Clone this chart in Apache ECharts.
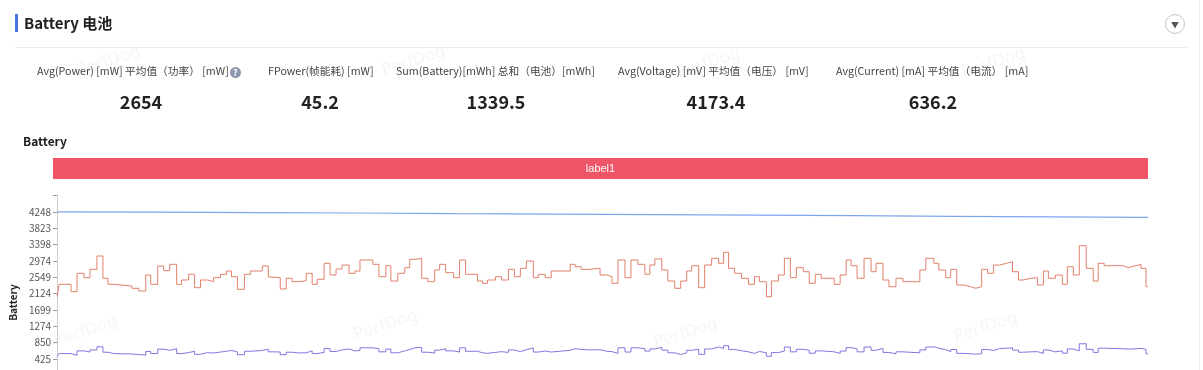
<!DOCTYPE html>
<html>
<head>
<meta charset="utf-8">
<script src="https://cdn.jsdelivr.net/npm/echarts@6/dist/echarts.min.js"></script>
<style>
  html, body { margin: 0; padding: 0; width: 1203px; height: 370px; overflow: hidden; background: #fff; }
  body { position: relative; font-family: "Noto Sans CJK SC", "Noto Sans", sans-serif; }
  #chart { position: absolute; left: 0; top: 0; width: 1203px; height: 420px; z-index: 0; }
  .ov { position: absolute; z-index: 2; white-space: nowrap; }
  .lbl { font-size: 10.7px; color: #444; line-height: 14px; }
  .val { font-size: 18px; font-weight: bold; color: #222; line-height: 22px; transform: translateX(-50%); }
  .wm { position: absolute; z-index: 1; font-size: 17px; color: rgba(0,0,0,0.045); transform: rotate(-18deg); font-family: "Noto Sans", sans-serif; }
</style>
</head>
<body>
<div id="chart"></div>

<div class="ov" style="left:15px;top:14px;width:3px;height:18px;background:#4a72e6;"></div>
<div class="ov" style="left:24px;top:12px;font-size:15px;font-weight:bold;color:#222;line-height:22px;">Battery 电池</div>
<div class="ov" style="left:15px;top:47px;width:1172px;height:1px;background:#ececec;"></div>
<div class="ov" style="left:1165px;top:14px;width:18px;height:18px;border:1px solid #c4c4c4;border-radius:50%;text-align:center;font-size:8px;line-height:19px;color:#555;">▼</div>
<div class="ov" style="left:1199px;top:0;width:1px;height:370px;background:#eef0f6;"></div>

<div id="stats"></div>

<div class="wm" style="left:52px;top:318px;">PerfDog</div>
<div class="wm" style="left:352px;top:312px;">PerfDog</div>
<div class="wm" style="left:652px;top:320px;">PerfDog</div>
<div class="wm" style="left:952px;top:314px;">PerfDog</div>
<div class="wm" style="left:75px;top:48px;">PerfDog</div>
<div class="wm" style="left:380px;top:48px;">PerfDog</div>
<div class="wm" style="left:675px;top:50px;">PerfDog</div>
<div class="wm" style="left:960px;top:50px;">PerfDog</div>

<script>
// ---- stats ----
const statLabels = [
  "Avg(Power) [mW] 平均值（功率） [mW]",
  "FPower(帧能耗) [mW]",
  "Sum(Battery)[mWh] 总和（电池）[mWh]",
  "Avg(Voltage) [mV] 平均值（电压） [mV]",
  "Avg(Current) [mA] 平均值（电流） [mA]"
];
const statValues = ["2654", "45.2", "1339.5", "4173.4", "636.2"];

// ---- series data (x = time position, power/current share time points) ----
const times = [0,2,14,20,27,33,40,46,51,57,75,82,89,94,101,107,113,120,125,132,138,144,151,157,164,170,175,181,188,194,206,212,
  217,224,230,236,243,250,256,261,268,274,280,286,293,299,304,317,323,330,335,342,349,354,360,366,372,379,384,390,398,404,410,422,427,432,
  437,440,446,453,459,465,471,478,483,490,496,515,520,526,534,545,552,557,563,570,576,583,590,595,600,607,613,620,626,632,637,644,650,
  657,664,669,674,680,687,694,700,705,712,717,724,730,736,742,749,755,761,767,780,786,792,797,803,810,817,822,829,835,842,849,866,872,
  877,880,885,892,897,903,910,917,922,928,934,940,946,953,959,965,970,977,984,990,995,1002,1009,1014,1020,1026,1033,1040,1045,1051,1070,1075,1083,1088,1093,1095];

const powerValues = [2044,2366,2174,2652,2538,2756,3102,2522,2366,2322,2262,2192,2608,2366,2842,2720,2886,2366,2478,2626,2278,2478,2434,2538,2626,2712,2564,2236,2626,2712,2842,2555,
  2538,2244,2522,2434,2460,2652,2366,2496,2912,2608,2764,2868,2652,2712,2998,2886,2564,2850,2452,2652,2798,3016,3042,2522,2434,2738,2886,2668,2538,2998,2626,2452,2392,2478,
  2478,2564,2478,2756,2564,2782,2972,2538,2626,2538,2712,2886,2824,2756,2782,2608,2564,2392,2998,2538,2998,2886,2626,2868,3025,2738,2452,2262,2452,2712,2850,2278,2868,
  3042,2912,3198,2782,2652,2522,2366,2564,2434,2044,2452,2608,3042,2538,2798,2694,2392,2626,2522,2366,2608,2998,2850,2522,3042,2694,2912,2478,2304,2522,2434,2738,3042,
  3042,2912,2738,2538,2756,2348,2304,2262,2304,2756,2652,2868,2912,2954,2694,2478,2522,2538,2348,2712,2522,2608,2366,2824,2608,3370,2782,2452,2912,2850,2798,2850,2886,2782,2304,2304];

const currentValues = [490,565,520,635,605,660,740,600,565,555,540,525,620,565,680,650,690,565,590,625,545,590,580,605,625,645,610,535,625,645,680,610,
  605,535,600,580,585,635,565,595,695,620,660,685,635,645,715,690,610,680,585,635,670,720,725,600,580,655,690,635,605,715,625,585,570,590,
  595,615,595,660,615,665,710,605,630,605,650,690,675,660,665,625,615,570,715,605,715,690,630,685,725,655,585,540,585,650,680,545,685,
  735,700,770,670,640,610,570,620,585,495,590,630,735,610,675,650,575,635,610,570,630,720,685,610,735,650,700,595,555,610,585,660,735,
  740,705,665,615,670,570,560,550,560,670,645,695,705,715,655,600,610,615,570,660,610,635,575,685,635,820,675,595,705,690,680,690,700,675,560,560];

const voltageTimes  = [0,100,200,300,400,500,600,700,800,900,1000,1095];
const voltageValues = [4250,4245,4232,4220,4205,4192,4178,4165,4150,4135,4120,4105];

// label band
const bandNames = ["label1"];
const bandStart = [0];
const bandEnd = [1095];

// axis
const yInterval = 424.8;
const yMax = 4672.8;
const timeMax = 1095;

// ---- build stats DOM ----
const statLeft = [37, 268, 396, 618, 836];
const statCenter = [141, 320, 496, 716, 933];
const statsEl = document.getElementById('stats');
statLabels.forEach((t, i) => {
  const l = document.createElement('div');
  l.className = 'ov lbl';
  l.style.left = statLeft[i] + 'px';
  l.style.top = '64px';
  l.textContent = t;
  if (i === 0) {
    const q = document.createElement('span');
    q.textContent = '?';
    q.style.cssText = 'display:inline-block;width:11px;height:11px;border-radius:50%;background:#8e97ad;color:#fff;font-size:9px;line-height:11px;text-align:center;font-weight:bold;margin-left:1px;vertical-align:-1px;';
    l.appendChild(q);
  }
  statsEl.appendChild(l);
  const v = document.createElement('div');
  v.className = 'ov val';
  v.style.left = statCenter[i] + 'px';
  v.style.top = '90px';
  v.textContent = statValues[i];
  statsEl.appendChild(v);
});

// ---- chart ----
const chart = echarts.init(document.getElementById('chart'), null, { renderer: 'canvas' });
const zip = (xs, ys) => xs.map((x, i) => [x, ys[i]]);

chart.setOption({
  animation: false,
  backgroundColor: '#fff',
  textStyle: { fontFamily: '"Noto Sans CJK SC", "Noto Sans", sans-serif' },
  title: {
    text: 'Battery', left: 18, top: 130,
    textStyle: { fontSize: 12, fontWeight: 'bold', color: '#222' }
  },
  grid: [
    { left: 53, right: 55, top: 195.6, bottom: 44.7 },
    { left: 53, right: 55, top: 158, height: 21 }
  ],
  xAxis: [
    { type: 'value', min: 0, max: timeMax, show: false, gridIndex: 0 },
    { type: 'value', min: 0, max: timeMax, show: false, gridIndex: 1 }
  ],
  yAxis: [
    {
      type: 'value', min: 0, max: yMax, interval: yInterval, gridIndex: 0,
      name: 'Battery', nameLocation: 'middle', nameGap: 37,
      nameTextStyle: { fontSize: 10, fontWeight: 'bold', color: '#222', padding: [0, 34, 0, 0] },
      axisLine: { show: true, lineStyle: { color: '#cfcfcf' } },
      axisTick: { show: true, length: 4, lineStyle: { color: '#999' } },
      axisLabel: {
        fontSize: 10, color: '#555', margin: 6,
        formatter: v => (v <= 0 || v > 4300) ? '' : String(Math.round(v))
      },
      splitLine: { show: false }
    },
    { type: 'value', min: 0, max: 1, show: false, gridIndex: 1 }
  ],
  series: [
    {
      type: 'custom', xAxisIndex: 1, yAxisIndex: 1,
      data: bandNames.map((n, i) => [bandStart[i], bandEnd[i], n]),
      renderItem: (params, api) => {
        const s = api.coord([api.value(0), 0]);
        const e = api.coord([api.value(1), 1]);
        return {
          type: 'rect',
          shape: { x: s[0], y: e[1], width: e[0] - s[0], height: s[1] - e[1] },
          style: { fill: '#ee5566' },
          textContent: { style: { text: bandNames[params.dataIndex], fill: '#fff', fontSize: 11 } },
          textConfig: { position: 'inside' }
        };
      }
    },
    {
      name: 'Voltage', type: 'line', data: zip(voltageTimes, voltageValues),
      symbol: 'none', lineStyle: { width: 1.2, color: '#7ea6ee' }, z: 3
    },
    {
      name: 'Power', type: 'line', step: 'end', data: zip(times, powerValues),
      symbol: 'none', lineStyle: { width: 1, color: '#e2806b' }, z: 3
    },
    {
      name: 'Current', type: 'line', step: 'end', data: zip(times, currentValues),
      symbol: 'none', lineStyle: { width: 1, color: '#8a72e2' }, z: 3
    }
  ]
});
</script>
</body>
</html>
